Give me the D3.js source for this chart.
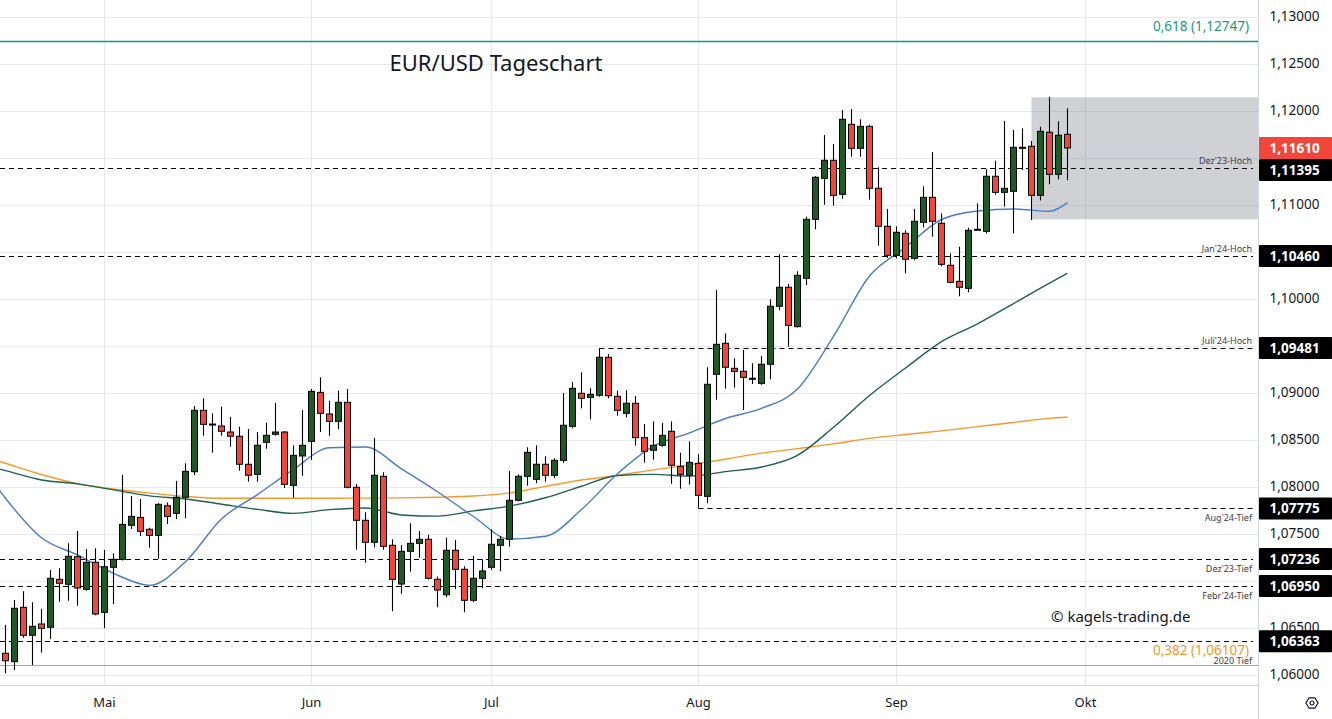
<!DOCTYPE html>
<html>
<head>
<meta charset="utf-8">
<script src="https://cdn.jsdelivr.net/npm/d3@7"></script>
<style>
body { margin: 0; background: #fff; }
svg { display: block; font-family: "Noto Sans", sans-serif; }
</style>
</head>
<body>
<svg id="chart" width="1332" height="719"></svg>
<script>
// EUR/USD daily candles, 16.04.2024 - 27.09.2024
const dates = [
  "2024-04-16","2024-04-17","2024-04-18","2024-04-19","2024-04-22","2024-04-23","2024-04-24","2024-04-25","2024-04-26","2024-04-29","2024-04-30",
  "2024-05-01","2024-05-02","2024-05-03","2024-05-06","2024-05-07","2024-05-08","2024-05-09","2024-05-10","2024-05-13","2024-05-14","2024-05-15","2024-05-16","2024-05-17","2024-05-20","2024-05-21","2024-05-22","2024-05-23","2024-05-24","2024-05-27","2024-05-28","2024-05-29","2024-05-30","2024-05-31",
  "2024-06-03","2024-06-04","2024-06-05","2024-06-06","2024-06-07","2024-06-10","2024-06-11","2024-06-12","2024-06-13","2024-06-14","2024-06-17","2024-06-18","2024-06-19","2024-06-20","2024-06-21","2024-06-24","2024-06-25","2024-06-26","2024-06-27","2024-06-28",
  "2024-07-01","2024-07-02","2024-07-03","2024-07-04","2024-07-05","2024-07-08","2024-07-09","2024-07-10","2024-07-11","2024-07-12","2024-07-15","2024-07-16","2024-07-17","2024-07-18","2024-07-19","2024-07-22","2024-07-23","2024-07-24","2024-07-25","2024-07-26","2024-07-29","2024-07-30","2024-07-31",
  "2024-08-01","2024-08-02","2024-08-05","2024-08-06","2024-08-07","2024-08-08","2024-08-09","2024-08-12","2024-08-13","2024-08-14","2024-08-15","2024-08-16","2024-08-19","2024-08-20","2024-08-21","2024-08-22","2024-08-23","2024-08-26","2024-08-27","2024-08-28","2024-08-29","2024-08-30",
  "2024-09-02","2024-09-03","2024-09-04","2024-09-05","2024-09-06","2024-09-09","2024-09-10","2024-09-11","2024-09-12","2024-09-13","2024-09-16","2024-09-17","2024-09-18","2024-09-19","2024-09-20","2024-09-23","2024-09-24","2024-09-25","2024-09-26","2024-09-27"
]
const open = [
  1.06234,1.06145,1.06723,1.06426,1.06546,1.06511,1.07021,1.06968,1.07262,1.06915,1.07202,
  1.06670,1.07149,1.07234,1.07596,1.07680,1.07553,1.07489,1.07804,1.07723,1.07894,1.08166,1.08819,1.08673,1.08652,1.08588,1.08543,1.08245,1.08138,1.08479,1.08564,1.08588,1.08021,1.08333,
  1.08489,1.09010,1.08780,1.08702,1.08904,1.08000,1.07649,1.07415,1.08117,1.07383,1.06971,1.07319,1.07404,1.07447,1.07021,1.06857,1.07330,1.07128,1.06798,1.07032,
  1.07149,1.07383,1.07447,1.07862,1.08117,1.08085,1.08245,1.08128,1.08287,1.08649,1.09000,1.08957,1.08979,1.09383,1.08968,1.08787,1.08894,1.08528,1.08394,1.08447,1.08596,1.08223,1.08128,
  1.08255,1.07904,1.09202,1.09532,1.09266,1.09234,1.09160,1.09106,1.09309,1.09926,1.10128,1.09709,1.10223,1.10851,1.11287,1.11479,1.11117,1.11862,1.11606,1.11840,1.11181,1.10777,
  1.10468,1.10702,1.10436,1.10819,1.11085,1.10809,1.10362,1.10191,1.10117,1.10745,1.10723,1.11309,1.11138,1.11149,1.11617,1.11628,1.11106,1.11777,1.11330,1.11755
]
const high = [
  1.06535,1.06801,1.06894,1.06777,1.06705,1.07120,1.07138,1.07404,1.07535,1.07343,1.07351,
  1.07333,1.07298,1.08131,1.07907,1.07876,1.07570,1.07830,1.07840,1.08067,1.08255,1.08865,1.08947,1.08787,1.08857,1.08748,1.08645,1.08620,1.08588,1.08687,1.08897,1.08599,1.08447,1.08822,
  1.09046,1.09170,1.08921,1.09028,1.09046,1.08035,1.07734,1.08524,1.08160,1.07447,1.07386,1.07617,1.07535,1.07496,1.07050,1.07464,1.07439,1.07160,1.07269,1.07234,
  1.07553,1.07480,1.08173,1.08138,1.08426,1.08447,1.08330,1.08309,1.09003,1.09120,1.09223,1.09053,1.09481,1.09418,1.09028,1.09032,1.08971,1.08673,1.08702,1.08684,1.08702,1.08368,1.08489,
  1.08351,1.09277,1.10100,1.09638,1.09372,1.09461,1.09319,1.09397,1.10000,1.10479,1.10163,1.10298,1.10879,1.11312,1.11748,1.11652,1.12014,1.12024,1.11915,1.11857,1.11404,1.10961,
  1.10777,1.10734,1.10961,1.11202,1.11567,1.10915,1.10489,1.10560,1.10762,1.11021,1.11386,1.11474,1.11897,1.11801,1.11819,1.11684,1.11836,1.12155,1.11894,1.12032
]
const low = [
  1.06021,1.06056,1.06400,1.06110,1.06240,1.06386,1.06783,1.06794,1.06740,1.06900,1.06640,
  1.06500,1.06755,1.07220,1.07556,1.07482,1.07358,1.07237,1.07610,1.07663,1.07670,1.08130,1.08549,1.08368,1.08549,1.08432,1.08177,1.08060,1.08060,1.08411,1.08550,1.07993,1.07890,1.08123,
  1.08290,1.08588,1.08549,1.08620,1.07990,1.07336,1.07198,1.07362,1.07336,1.06681,1.06868,1.07102,1.07251,1.07020,1.06723,1.06830,1.06915,1.06670,1.06777,1.06926,
  1.07120,1.07106,1.07368,1.07850,1.08017,1.08043,1.08060,1.08100,1.08260,1.08628,1.08840,1.08723,1.08964,1.08947,1.08762,1.08745,1.08443,1.08262,1.08294,1.08432,1.08038,1.07985,1.08028,
  1.07775,1.07830,1.08932,1.09049,1.09060,1.08822,1.09099,1.09090,1.09149,1.09883,1.09496,1.09700,1.10150,1.10745,1.11006,1.10996,1.11070,1.11517,1.11517,1.11060,1.10570,1.10440,
  1.10436,1.10277,1.10415,1.10766,1.10666,1.10351,1.10170,1.10032,1.10074,1.10740,1.10700,1.11113,1.10985,1.10702,1.11375,1.10844,1.11050,1.11223,1.11277,1.11266
]
const close = [
  1.06155,1.06713,1.06426,1.06521,1.06500,1.07032,1.06979,1.07266,1.06929,1.07202,1.06652,
  1.07155,1.07234,1.07606,1.07691,1.07532,1.07489,1.07819,1.07691,1.07894,1.08170,1.08819,1.08670,1.08673,1.08596,1.08543,1.08245,1.08128,1.08447,1.08553,1.08588,1.08032,1.08340,1.08447,
  1.09021,1.08787,1.08702,1.08904,1.08000,1.07649,1.07415,1.08128,1.07372,1.07021,1.07319,1.07404,1.07447,1.07032,1.06907,1.07330,1.07128,1.06798,1.07032,1.07110,
  1.07394,1.07447,1.07862,1.08117,1.08372,1.08245,1.08128,1.08287,1.08660,1.09053,1.08947,1.08989,1.09383,1.08974,1.08819,1.08894,1.08528,1.08383,1.08447,1.08553,1.08234,1.08138,1.08266,
  1.07915,1.09096,1.09521,1.09277,1.09234,1.09170,1.09160,1.09309,1.09926,1.10128,1.09723,1.10255,1.10851,1.11298,1.11479,1.11106,1.11915,1.11606,1.11840,1.11181,1.10777,1.10468,
  1.10713,1.10426,1.10830,1.11085,1.10830,1.10372,1.10181,1.10128,1.10734,1.10745,1.11309,1.11138,1.11181,1.11617,1.11617,1.11106,1.11787,1.11330,1.11745,1.11610
]
// empty trading days to the right of the last candle
const futureDates = ["2024-09-30","2024-10-01","2024-10-02","2024-10-03","2024-10-04","2024-10-07","2024-10-08","2024-10-09","2024-10-10","2024-10-11",
  "2024-10-14","2024-10-15","2024-10-16","2024-10-17","2024-10-18","2024-10-21","2024-10-22","2024-10-23","2024-10-24","2024-10-25","2024-10-28"]

// moving averages at sample days
const maDates = ["2024-04-15","2024-04-16","2024-04-22","2024-04-26","2024-05-02","2024-05-08","2024-05-14","2024-05-20","2024-05-24","2024-05-30",
  "2024-06-05","2024-06-11","2024-06-17","2024-06-21","2024-06-27","2024-07-03","2024-07-09","2024-07-15","2024-07-19","2024-07-25","2024-07-31",
  "2024-08-06","2024-08-12","2024-08-16","2024-08-22","2024-08-28","2024-09-03","2024-09-09","2024-09-13","2024-09-19","2024-09-25","2024-09-27"]
const sma20 = [1.08009,1.07884,1.07463,1.07280,1.07085,1.06957,1.07209,1.07663,1.07922,1.08190,1.08420,1.08428,1.08196,1.07953,1.07689,1.07450,
  1.07479,1.07763,1.08144,1.08438,1.08578,1.08732,1.08840,1.09046,1.09606,1.10248,1.10552,1.10849,1.10939,1.10961,1.10936,1.11028]
const sma50 = [1.08203,1.08178,1.08078,1.08037,1.07972,1.07909,1.07876,1.07820,1.07765,1.07723,1.07762,1.07780,1.07706,1.07693,1.07749,1.07800,
  1.07889,1.08011,1.08126,1.08138,1.08119,1.08167,1.08216,1.08340,1.08638,1.08977,1.09269,1.09550,1.09739,1.09955,1.10172,1.10277]
const sma200 = [1.08286,1.08256,1.08136,1.08039,1.07982,1.07938,1.07903,1.07883,1.07883,1.07884,1.07884,1.07885,1.07887,1.07894,1.07907,1.07941,
  1.08010,1.08077,1.08126,1.08185,1.08240,1.08299,1.08363,1.08411,1.08462,1.08520,1.08561,1.08600,1.08645,1.08690,1.08733,1.08748]

// horizontal levels
const levelValues = [1.11395, 1.10460, 1.09481, 1.07775, 1.07236, 1.06950, 1.06363]
const levelNames = ["Dez'23-Hoch", "Jan'24-Hoch", "Juli'24-Hoch", "Aug'24-Tief", "Dez'23-Tief", "Febr'24-Tief", "2020 Tief"]
const levelStart = [null, null, "2024-07-17", "2024-08-01", null, null, null]
const fibValues = [1.12747, 1.06107]
const fibLabels = ["0,618 (1,12747)", "0,382 (1,06107)"]
const lastPrice = 1.11610
const boxStart = "2024-09-23", boxHigh = 1.12149, boxLow = 1.10851

const yTicks = [1.060,1.065,1.070,1.075,1.080,1.085,1.090,1.095,1.100,1.105,1.110,1.115,1.120,1.125,1.130]
const monthTicks = ["2024-05-01","2024-06-03","2024-07-01","2024-08-01","2024-09-02","2024-10-01"]
const monthLabels = ["Mai","Jun","Jul","Aug","Sep","Okt"]

const plotR = 1258.5, plotB = 685.5
const svg = d3.select("#chart")
const fmt = d3.formatLocale({decimal: ",", thousands: ".", grouping: [3], currency: ["", ""]}).format(".5f")

const domain = ["2024-04-15"].concat(dates, futureDates)
const x = d3.scaleBand().domain(domain).range([-8, -8 + 9 * domain.length])
const xc = d => x(d) + x.bandwidth() / 2
const y = d3.scaleLinear().domain([1.06, 1.13]).range([675.3, 17.3])

svg.append("rect").attr("width", 1332).attr("height", 719).attr("fill", "#fff")
svg.append("defs").append("clipPath").attr("id", "plot")
  .append("rect").attr("width", plotR).attr("height", plotB)

// grid
const grid = svg.append("g").attr("stroke", "#e8e9ed").attr("stroke-width", 1)
grid.selectAll("line.h").data(yTicks).join("line").attr("class", "h")
  .attr("x1", 0).attr("x2", plotR)
  .attr("y1", d => Math.round(y(d)) + 0.5).attr("y2", d => Math.round(y(d)) + 0.5)
grid.selectAll("line.v").data(monthTicks).join("line").attr("class", "v")
  .attr("x1", d => xc(d)).attr("x2", d => xc(d))
  .attr("y1", 0).attr("y2", plotB)

// shaded zone
svg.append("rect")
  .attr("x", xc(boxStart)).attr("width", plotR - xc(boxStart))
  .attr("y", y(boxHigh)).attr("height", y(boxLow) - y(boxHigh))
  .attr("fill", "#787b86").attr("fill-opacity", 0.35)

// fibonacci lines
const fibColors = ["#16987f", "#f7971f"]
const fibWidths = [1.3, 1]
fibValues.forEach((v, i) => {
  svg.append("line").attr("x1", 0).attr("x2", plotR)
    .attr("y1", Math.round(y(v)) + 0.5).attr("y2", Math.round(y(v)) + 0.5)
    .attr("stroke", fibColors[i]).attr("stroke-width", fibWidths[i])
  svg.append("text").attr("x", 1249).attr("y", y(v) - 10)
    .attr("text-anchor", "end").attr("font-size", 13.5).attr("fill", fibColors[i])
    .text(fibLabels[i])
})

// dashed levels
const lv = svg.append("g")
levelValues.forEach((v, i) => {
  const yy = Math.round(y(v)) + 0.5
  const x0 = levelStart[i] ? xc(levelStart[i]) : 0
  lv.append("line").attr("x1", x0).attr("x2", 1253).attr("y1", yy).attr("y2", yy)
    .attr("stroke", "#000").attr("stroke-width", 1).attr("stroke-dasharray", "5,4")
  const below = levelNames[i].includes("Tief")
  const off = levelNames[i] === "2020 Tief" ? 22 : (below ? 12 : -5)
  lv.append("text").attr("x", 1252).attr("y", yy + off)
    .attr("text-anchor", "end").attr("font-size", 9).attr("fill", "#3a3d45")
    .text(levelNames[i])
})

// moving averages
const maPts = vals => vals.map((v, i) => [xc(maDates[i]), y(v)])
const lineGen = d3.line().curve(d3.curveMonotoneX)
const maG = svg.append("g").attr("clip-path", "url(#plot)").attr("fill", "none").attr("stroke-width", 1.4)
maG.append("path").attr("d", lineGen(maPts(sma200))).attr("stroke", "#f59a2a")
maG.append("path").attr("d", lineGen(maPts(sma50))).attr("stroke", "#1f5f52")
maG.append("path").attr("d", lineGen(maPts(sma20))).attr("stroke", "#4a7cc4")

// candles
const candles = dates.map((d, i) => ({ d, o: open[i], h: high[i], l: low[i], c: close[i] }))
const cg = svg.append("g").attr("clip-path", "url(#plot)")
cg.selectAll("line.wick").data(candles).join("line").attr("class", "wick")
  .attr("x1", d => xc(d.d)).attr("x2", d => xc(d.d))
  .attr("y1", d => y(d.h)).attr("y2", d => y(d.l))
  .attr("stroke", "#000").attr("stroke-width", 1.1)
cg.selectAll("rect.body").data(candles).join("rect").attr("class", "body")
  .attr("x", d => xc(d.d) - 3).attr("width", 6)
  .attr("y", d => y(Math.max(d.o, d.c)))
  .attr("height", d => Math.max(1, Math.abs(y(d.o) - y(d.c))))
  .attr("fill", d => d.c >= d.o ? "#1e5b24" : "#f2463a")
  .attr("stroke", "#000").attr("stroke-width", 1)

// title and copyright
svg.append("text").attr("x", 496).attr("y", 71).attr("text-anchor", "middle")
  .attr("font-size", 22).attr("fill", "#131722").text("EUR/USD Tageschart")
svg.append("text").attr("x", 1051).attr("y", 622)
  .attr("font-size", 15).attr("fill", "#131722").text("© kagels-trading.de")

// axes
svg.append("line").attr("x1", plotR).attr("x2", plotR).attr("y1", 0).attr("y2", 719).attr("stroke", "#d1d4dc")
svg.append("line").attr("x1", 0).attr("x2", plotR).attr("y1", plotB).attr("y2", plotB).attr("stroke", "#d1d4dc")

// price badges on the right axis
const badgeH = 22
const badges = [{ v: lastPrice, fill: "#f2463a" }].concat(levelValues.map(v => ({ v, fill: "#000" })))
badges.sort((a, b) => y(a.v) - y(b.v))
let lastBottom = -Infinity
badges.forEach(b => {
  let cy = y(b.v)
  if (cy - badgeH / 2 < lastBottom) cy = lastBottom + badgeH / 2
  lastBottom = cy + badgeH / 2
  b.cy = cy
})

// tick labels fully covered by a badge are left out
const hidden = t => badges.some(b => Math.abs(y(t) - b.cy) < badgeH / 2)
const yAxis = svg.append("g").attr("transform", `translate(${plotR},0)`)
  .call(d3.axisRight(y).tickValues(yTicks.filter(t => !hidden(t))).tickSize(0).tickPadding(11).tickFormat(fmt))
yAxis.select(".domain").remove()
yAxis.selectAll("text").attr("font-size", 13.5).attr("fill", "#131722")
  .attr("font-family", "'Noto Sans', sans-serif").attr("dy", "0.2em")

const xAxis = svg.append("g").attr("transform", `translate(0,${plotB})`)
  .call(d3.axisBottom(x).tickValues(monthTicks).tickSize(0).tickPadding(12)
    .tickFormat(d => monthLabels[monthTicks.indexOf(d)]))
xAxis.select(".domain").remove()
xAxis.selectAll("text").attr("font-size", 13).attr("fill", "#131722")
  .attr("font-family", "'Noto Sans', sans-serif")

badges.forEach(b => {
  svg.append("rect").attr("x", 1259).attr("y", b.cy - badgeH / 2).attr("width", 73).attr("height", badgeH)
    .attr("rx", 1).attr("fill", b.fill)
  svg.append("text").attr("x", 1269.5).attr("y", b.cy).attr("dy", "0.36em")
    .attr("font-size", 13.5).attr("font-weight", "bold").attr("fill", "#fff").text(fmt(b.v))
})

// settings icon
const gear = svg.append("g").attr("transform", "translate(1312,703)").attr("fill", "none").attr("stroke", "#131722").attr("stroke-width", 1.2)
gear.append("path").attr("d", d3.range(6).map((i) => {
  const a = Math.PI / 3 * i
  return (i ? "L" : "M") + (6 * Math.cos(a)).toFixed(2) + "," + (6 * Math.sin(a)).toFixed(2)
}).join("") + "Z")
gear.append("circle").attr("r", 2)
</script>
</body>
</html>
